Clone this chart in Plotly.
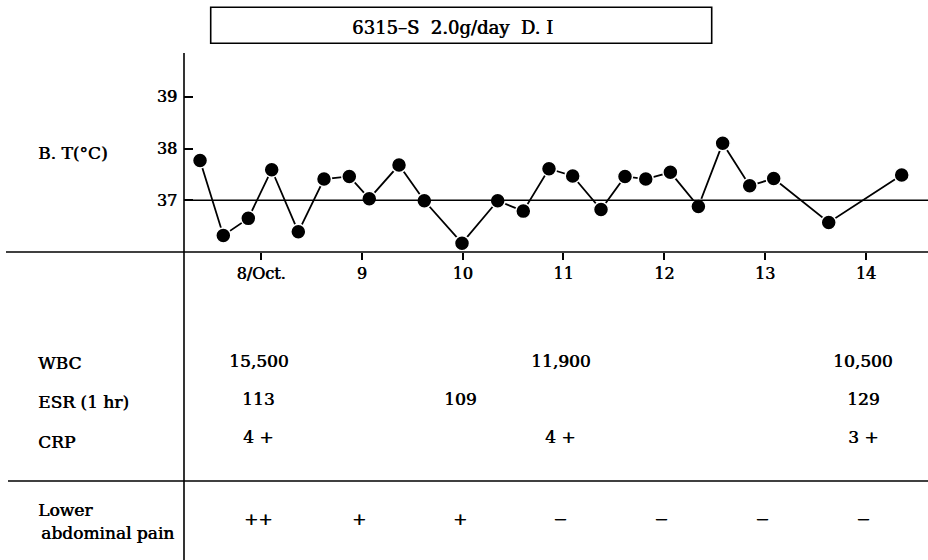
import plotly.graph_objects as go

# ---- data ----
time_day = [7.395, 7.626, 7.874, 8.106, 8.370, 8.625, 8.876, 9.074, 9.369, 9.620,
            9.994, 10.348, 10.602, 10.857, 11.092, 11.373, 11.611, 11.817, 12.061,
            12.339, 12.580, 12.848, 13.086, 13.632, 14.356]
body_temp = [37.77, 36.32, 36.65, 37.59, 36.39, 37.41, 37.46, 37.03, 37.68, 36.99,
             36.17, 36.99, 36.79, 37.61, 37.47, 36.82, 37.46, 37.41, 37.54, 36.88,
             38.10, 37.28, 37.42, 36.57, 37.49]

day_ticks = [8, 9, 10, 11, 12, 13, 14]
day_labels = ["8/Oct.", "9", "10", "11", "12", "13", "14"]
temp_ticks = [37, 38, 39]

wbc_days = [8, 11, 14]
wbc_vals = ["15,500", "11,900", "10,500"]
esr_days = [8, 10, 14]
esr_vals = ["113", "109", "129"]
crp_days = [8, 11, 14]
crp_vals = ["4 +", "4 +", "3 +"]
pain_days = [8, 9, 10, 11, 12, 13, 14]
pain_vals = ["++", "+", "+", "\u2212", "\u2212", "\u2212", "\u2212"]

title_text = "6315\u2013S  2.0g/day  D. I"
ylabel_text = "B. T(\u00b0C)"

# ---- layout geometry (pixels) ----
W, H = 928, 560
L, R, T, B = 184, 0, 53, 308
PW = W - L - R
PH = H - T - B


def px_x(px):
    return (px - L) / PW


def px_y(py):
    return (H - B - py) / PH


FONT = "DejaVu Serif"
SHADOW = "0.6px 0 0 black"
fig = go.Figure()
fig.add_trace(go.Scatter(
    x=time_day, y=body_temp, mode="lines+markers",
    line=dict(color="black", width=1.8),
    marker=dict(size=15, color="black", line=dict(color="white", width=1.5)),
    showlegend=False, cliponaxis=False, hoverinfo="skip",
))

fig.update_layout(
    width=W, height=H,
    margin=dict(l=L, r=R, t=T, b=B),
    paper_bgcolor="white", plot_bgcolor="white",
    font=dict(family=FONT, size=16, color="black"),
    xaxis=dict(range=[7.236, 14.617], tickvals=day_ticks, ticktext=day_labels,
               ticks="outside", ticklen=7, tickwidth=1.5, tickcolor="black",
               showgrid=False, zeroline=False, showline=False,
               tickfont=dict(family=FONT, size=16, shadow=SHADOW)),
    yaxis=dict(range=[36.0, 39.846], tickvals=temp_ticks,
               ticks="inside", ticklen=9, tickwidth=1.5, tickcolor="black",
               showgrid=False, zeroline=False, showline=False,
               ticklabelstandoff=6,
               tickfont=dict(family=FONT, size=16, shadow=SHADOW)),
)

line_style = dict(color="black", width=1.6)
shapes = [
    # 37 reference line
    dict(type="line", xref="paper", yref="y", x0=0, x1=1, y0=37, y1=37, line=line_style),
    # horizontal axis line extended left
    dict(type="line", xref="paper", yref="paper", x0=px_x(6), x1=1, y0=0, y1=0, line=line_style),
    # vertical axis line full height
    dict(type="line", xref="paper", yref="paper", x0=0, x1=0, y0=px_y(560), y1=1, line=line_style),
    # separator line
    dict(type="line", xref="paper", yref="paper", x0=px_x(8), x1=1, y0=px_y(481), y1=px_y(481), line=line_style),
    # title box
    dict(type="rect", xref="paper", yref="paper", x0=px_x(210.7), x1=px_x(711.7),
         y0=px_y(43.3), y1=px_y(7.3), line=line_style, fillcolor="white"),
]
fig.update_layout(shapes=shapes)

ann = []


def label(text, px, py, anchor="left", size=17):
    ann.append(dict(text=text, xref="paper", yref="paper", x=px_x(px), y=px_y(py),
                    xanchor=anchor, yanchor="middle", showarrow=False,
                    font=dict(family=FONT, size=size, color="black", shadow=SHADOW)))


label(title_text, 452.5, 27, anchor="center", size=18)
label(ylabel_text, 36, 153)
label("WBC", 36, 363)
label("ESR (1 hr)", 36, 402)
label("CRP", 36, 442)
label("Lower", 36, 510)
label("abdominal pain", 39, 533)


def row(days, vals, py):
    for d, v in zip(days, vals):
        ann.append(dict(text=v, xref="x", yref="paper", x=d, y=px_y(py),
                        xanchor="center", yanchor="middle", showarrow=False, xshift=-3,
                        font=dict(family=FONT, size=17, color="black", shadow=SHADOW)))


row(wbc_days, wbc_vals, 361)
row(esr_days, esr_vals, 399)
row(crp_days, crp_vals, 437)
row(pain_days, pain_vals, 519)

fig.update_layout(annotations=ann)
fig.write_html("out.html",
               config={"displayModeBar": False},
               post_script="document.body.style.margin='0';document.body.style.overflow='hidden';")
